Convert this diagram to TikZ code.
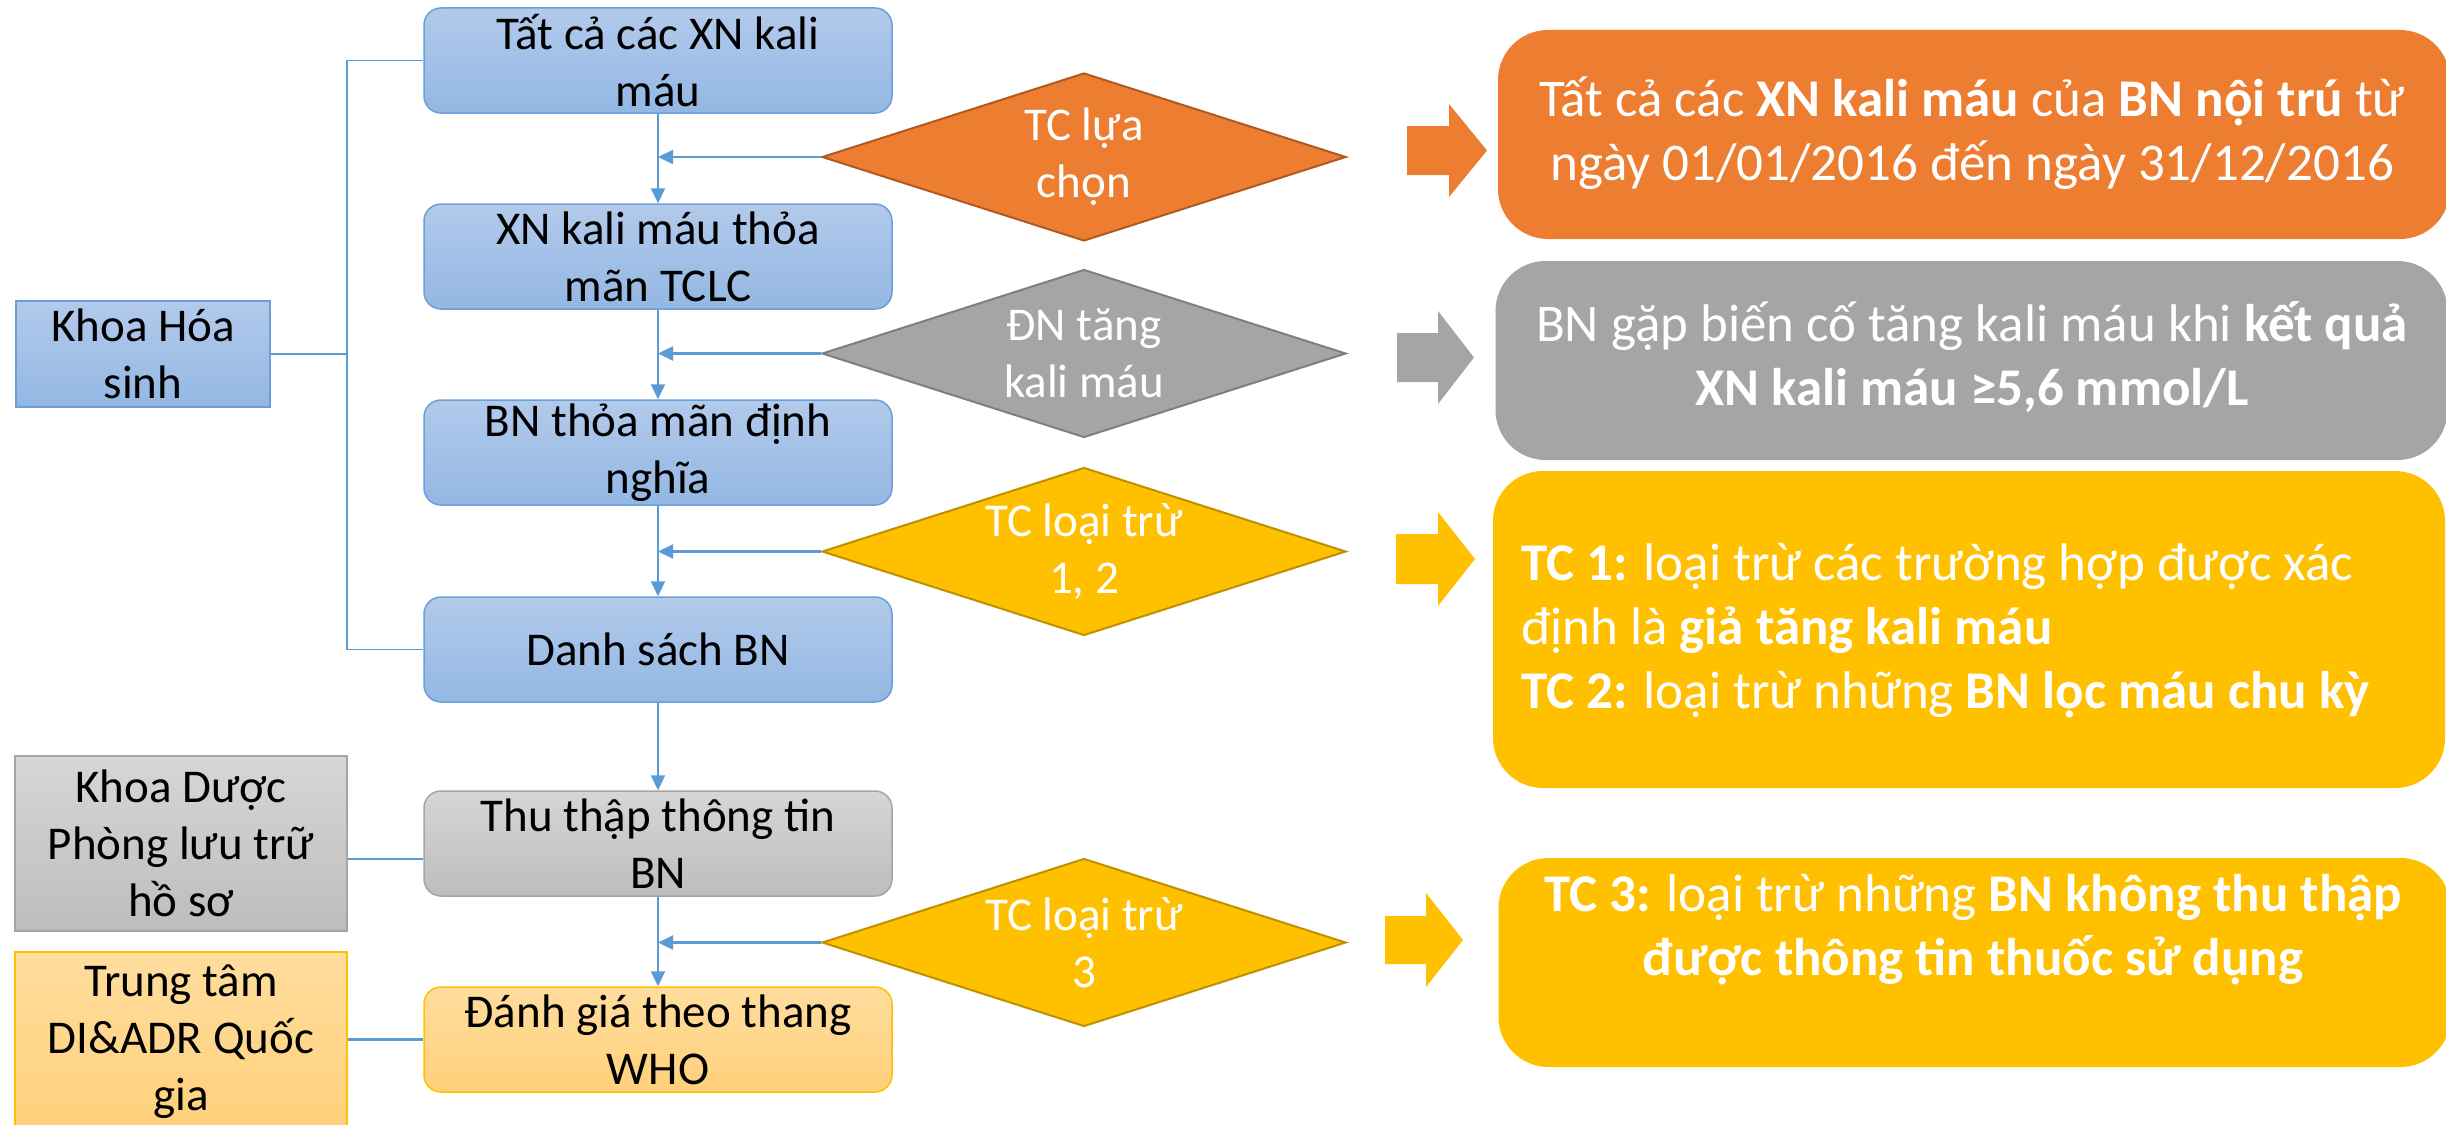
\documentclass[tikz,border=0pt]{standalone}
\usepackage{fontspec}
\setmainfont{Carlito}
\newfontfamily\symfont{DejaVu Sans}
\usetikzlibrary{shapes.geometric,arrows.meta,calc}
\definecolor{conn}{HTML}{5B9BD5}
\definecolor{bluetop}{HTML}{B2CAEB}
\definecolor{bluebot}{HTML}{93B7E3}
\definecolor{bluebd}{HTML}{6A9FD8}
\definecolor{graytop}{HTML}{D6D6D6}
\definecolor{graybot}{HTML}{BDBDBD}
\definecolor{graybd}{HTML}{A5A5A5}
\definecolor{lortop}{HTML}{FFDD9E}
\definecolor{lorbot}{HTML}{FFD07A}
\definecolor{yel}{HTML}{FFC000}
\definecolor{yelbd}{HTML}{BF9000}
\definecolor{ora}{HTML}{ED7D31}
\definecolor{orabd}{HTML}{AE5A21}
\definecolor{gry}{HTML}{A5A5A5}
\definecolor{grybd}{HTML}{7F7F7F}
\begin{document}
\begin{tikzpicture}[x=1pt,y=-1pt,
  smallfont/.style={font=\fontsize{47}{57}\selectfont},
  bigfont/.style={font=\fontsize{53}{64}\selectfont},
  lbox/.style={rectangle, rounded corners=17pt, minimum width=468pt, minimum height=105pt,
     draw=bluebd, line width=1.5pt, top color=bluetop, bottom color=bluebot,
     smallfont, align=center, inner sep=0pt},
  grayfill/.style={draw=graybd, top color=graytop, bottom color=graybot},
  lorfill/.style={draw=yel, top color=lortop, bottom color=lorbot},
  sbox/.style={rectangle, draw=bluebd, line width=1.5pt, top color=bluetop, bottom color=bluebot,
     smallfont, align=center, inner sep=0pt},
  dia/.style={diamond, minimum width=524pt, minimum height=168pt, inner sep=0pt, line width=2pt},
  dtext/.style={smallfont, align=center, text=white, inner sep=0pt},
  rbox/.style={rectangle, rounded corners=50pt, minimum width=952pt, inner sep=0pt},
  rtext/.style={bigfont, align=center, text=white, inner sep=0pt},
  flow/.style={draw=conn, line width=2.2pt, -{Triangle[length=15pt,width=14pt]}},
  link/.style={draw=conn, line width=2.6pt},
  brk/.style={draw=conn, line width=1.6pt}
]
\clip (0,0) rectangle (2446,1124);

% left flow boxes
\node[lbox] (b1) at (658,60.5) {Tất cả các XN kali\\máu};
\node[lbox] (b2) at (658,256.5) {XN kali máu thỏa\\mãn TCLC};
\node[lbox] (b3) at (658,452.5) {BN thỏa mãn định\\nghĩa};
\node[lbox] (b4) at (658,649.5) {Danh sách BN};
\node[lbox, grayfill] (b5) at (658,843.5) {Thu thập thông tin\\BN};
\node[lbox, lorfill] (b6) at (658,1039.5) {Đánh giá theo thang\\WHO};

% side boxes
\node[sbox, minimum width=254pt, minimum height=106pt] (khs) at (143,354) {Khoa Hóa\\sinh};
\node[sbox, grayfill, minimum width=332pt, minimum height=175pt] (kd) at (181,843.5) {Khoa Dược\\Phòng lưu trữ\\hồ sơ};
\node[sbox, lorfill, minimum width=332pt, minimum height=180pt] (tt) at (181,1042) {Trung tâm\\DI\&ADR Quốc\\gia};

% diamonds
\node[dia, fill=ora, draw=orabd] (d1) at (1084,157) {};
\node[dtext] (d1t) at (d1) {TC lựa\\chọn};
\node[dia, fill=gry, draw=grybd] (d2) at (1084,353.5) {};
\node[dtext] (d2t) at (d2) {ĐN tăng\\kali máu};
\node[dia, fill=yel, draw=yelbd] (d3) at (1084,551.5) {};
\node[dtext] (d3t) at (d3) {TC loại trừ\\1, 2};
\node[dia, fill=yel, draw=yelbd] (d4) at (1084,942.5) {};
\node[dtext] (d4t) at (d4) {TC loại trừ\\3};

% bracket for Khoa Hoa sinh
\coordinate (bk) at (347,354);
\draw[brk] (b1.west) -| (bk) |- (b4.west);
\draw[brk] (khs.east) -- (bk);
\draw[link] ($(kd.east)+(0,15.5)$) -- ($(kd.east -| b5.west)+(0,15.5)$);
\draw[link] (b6.west -| tt.east) -- (b6.west);

% vertical flow
\draw[flow] (b1.south) -- (b2.north);
\draw[flow] (b2.south) -- (b3.north);
\draw[flow] (b3.south) -- (b4.north);
\draw[flow] (b4.south) -- (b5.north);
\draw[flow] (b5.south) -- (b6.north);

% diamond arrows
\draw[flow] (d1.west) -- (d1.west -| b1.south);
\draw[flow] (d2.west) -- (d2.west -| b1.south);
\draw[flow] (d3.west) -- (d3.west -| b1.south);
\draw[flow] (d4.west) -- (d4.west -| b1.south);

% block arrows
\fill[ora] (1407,126) -- (1449,126) -- (1449,104) -- (1487,150.5) -- (1449,197) -- (1449,175) -- (1407,175) -- cycle;
\fill[gry] (1397,333) -- (1438,333) -- (1438,311) -- (1474,357.5) -- (1438,404) -- (1438,382) -- (1397,382) -- cycle;
\fill[yel] (1396,534) -- (1438,534) -- (1438,512) -- (1475,559) -- (1438,606) -- (1438,584) -- (1396,584) -- cycle;
\fill[yel] (1385,916) -- (1426,916) -- (1426,893) -- (1463,940) -- (1426,987) -- (1426,964) -- (1385,964) -- cycle;

% right boxes
\node[rbox, fill=ora, minimum height=209pt] (r1) at (1974,134.5) {};
\node[rtext] (r1t) at (1972,133) {Tất cả các \textbf{XN kali máu} của \textbf{BN nội trú} từ\\ngày 01/01/2016 đến ngày 31/12/2016};
\node[rbox, fill=gry, minimum height=199pt] (r2) at (1971.5,360.5) {};
\node[rtext] (r2t) at (1972,357) {BN gặp biến cố tăng kali máu khi \textbf{kết quả}\\\textbf{XN kali máu ≥5,6 mmol/L}};
\node[rbox, fill=yel, minimum height=317pt] (r3) at (1969,629.5) {};
\node[rtext, align=left, anchor=west] (r3t) at (1521,630.5) {\textbf{TC 1:} loại trừ các trường hợp được xác\\định là \textbf{giả tăng kali máu}\\\textbf{TC 2:} loại trừ những \textbf{BN lọc máu chu kỳ}};
\node[rbox, fill=yel, minimum height=209pt] (r4) at (1974.5,962.5) {};
\node[rtext] (r4t) at (1973,930) {\textbf{TC 3:} loại trừ những \textbf{BN không thu thập}\\\textbf{được thông tin thuốc sử dụng}};
\end{tikzpicture}
\end{document}
